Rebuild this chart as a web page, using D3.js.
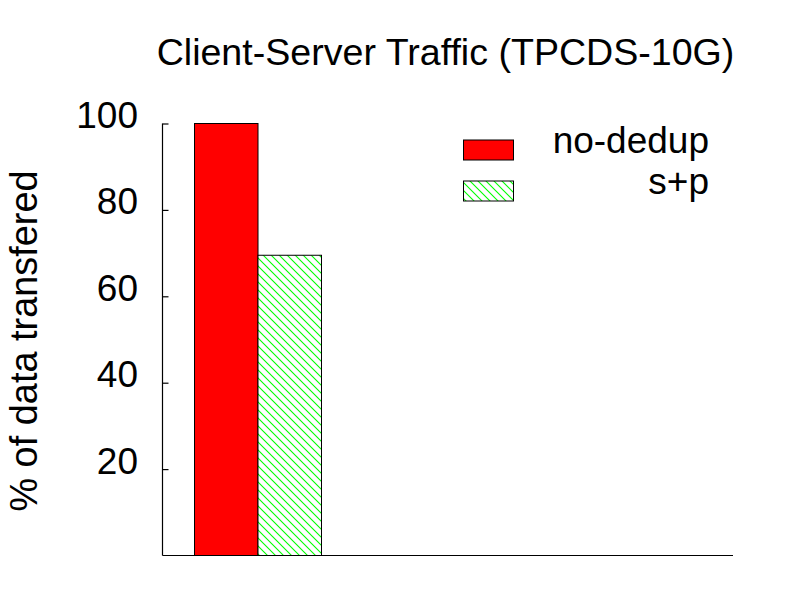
<!DOCTYPE html>
<html><head><meta charset="utf-8">
<script src="https://cdn.jsdelivr.net/npm/d3@7"></script>
<style>body{margin:0;background:#fff}svg{display:block}text{font-family:"Liberation Sans",Arial,sans-serif;fill:#000}</style>
</head><body>
<script>
const series = ["no-dedup", "s+p"];
const values = [100, 69.5];
const yTicks = [20, 40, 60, 80, 100];
const title = "Client-Server Traffic (TPCDS-10G)";
const yLabel = "% of data transfered";

const W = 800, H = 600;
const FS = 37;
const svg = d3.select("body").append("svg").attr("width", W).attr("height", H);
const defs = svg.append("defs");
const pat = defs.append("pattern").attr("id", "hatch").attr("patternUnits", "userSpaceOnUse")
  .attr("width", 8).attr("height", 8);
pat.append("rect").attr("width", 8).attr("height", 8).attr("fill", "#fff");
pat.append("path").attr("d", "M-2,-2 L10,10 M-2,6 L2,10 M6,-2 L10,2")
  .attr("stroke", "#00ff00").attr("stroke-width", 1.1);

const pLeft = 162.5, pRight = 733, pTop = 123.5, pBottom = 555.5;
const y = d3.scaleLinear().domain([0, 100]).range([pBottom, pTop]);
const x = d3.scaleBand().domain(series).range([194.5, 321.5]).padding(0);
const fills = ["#ff0000", "url(#hatch)"];

svg.selectAll("rect.bar").data(series).enter().append("rect").attr("class", "bar")
  .attr("x", d => x(d)).attr("width", x.bandwidth())
  .attr("y", (d, i) => y(values[i])).attr("height", (d, i) => y(0) - y(values[i]))
  .attr("fill", (d, i) => fills[i]).attr("stroke", "#000").attr("stroke-width", 1);

// axes
const yAxis = d3.axisRight(y).tickValues(yTicks).tickSize(6).tickFormat("");
const ga = svg.append("g").attr("transform", `translate(${pLeft},0)`).call(yAxis);
ga.select(".domain").remove();
ga.selectAll(".tick line").attr("stroke", "#000").attr("stroke-width", 1.2);
svg.append("line").attr("x1", pLeft).attr("x2", pLeft).attr("y1", pTop).attr("y2", pBottom)
  .attr("stroke", "#000").attr("stroke-width", 1.2);
svg.append("line").attr("x1", pLeft).attr("x2", pRight).attr("y1", pBottom).attr("y2", pBottom)
  .attr("stroke", "#000").attr("stroke-width", 1.2);
svg.selectAll("text.yt").data(yTicks).enter().append("text").attr("class", "yt")
  .attr("x", 138).attr("y", d => y(d) + 4.5).attr("text-anchor", "end")
  .attr("font-size", FS).text(d => d);

svg.append("text").attr("x", 445.5).attr("y", 65).attr("text-anchor", "middle")
  .attr("font-size", 37.6).text(title);
svg.append("text").attr("transform", "translate(37,341) rotate(-90)").attr("text-anchor", "middle")
  .attr("font-size", 37.9).text(yLabel);

// legend
const lg = svg.selectAll("g.lg").data(series).enter().append("g").attr("class", "lg")
  .attr("transform", (d, i) => `translate(0,${150 + i * 41})`);
lg.append("rect").attr("x", 463.5).attr("y", -10).attr("width", 50).attr("height", 20)
  .attr("fill", (d, i) => fills[i]).attr("stroke", "#000").attr("stroke-width", 1);
lg.append("text").attr("x", 709).attr("y", 3).attr("text-anchor", "end")
  .attr("font-size", FS).text(d => d);
</script>
</body></html>
